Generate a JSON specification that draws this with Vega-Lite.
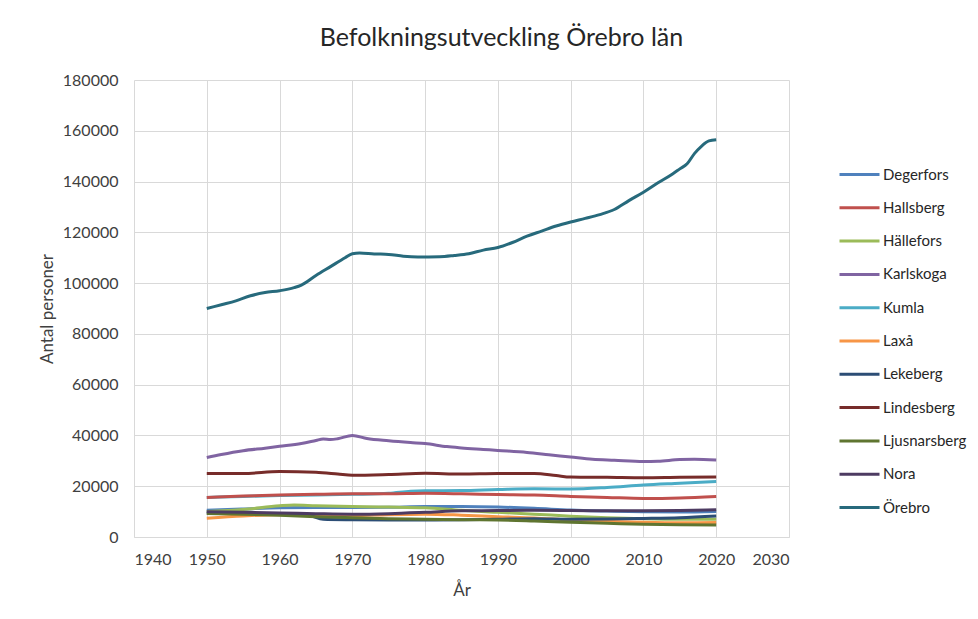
{
  "$schema": "https://vega.github.io/schema/vega-lite/v6.json",
  "width": 655,
  "height": 457,
  "autosize": {"type": "none"},
  "padding": {"left": 134, "top": 80, "right": 189, "bottom": 82},
  "background": "white",
  "title": {"text": "Befolkningsutveckling Örebro län", "anchor": "middle", "dx": 40, "offset": 1, "baseline": "alphabetic", "fontSize": 25, "font": "Lato", "fontWeight": "normal", "color": "#262626"},
  "config": {"view": {"stroke": null}, "font": "Lato"},
  "datasets": {
    "pop": [
      {"k":"Örebro","y":1950,"v":90000},{"k":"Örebro","y":1952,"v":91500},{"k":"Örebro","y":1954,"v":93000},{"k":"Örebro","y":1956,"v":95000},{"k":"Örebro","y":1958,"v":96300},{"k":"Örebro","y":1960,"v":97000},{"k":"Örebro","y":1962,"v":98200},{"k":"Örebro","y":1963,"v":99200},{"k":"Örebro","y":1965,"v":103000},{"k":"Örebro","y":1967,"v":106500},{"k":"Örebro","y":1969,"v":110000},{"k":"Örebro","y":1970,"v":111600},{"k":"Örebro","y":1971,"v":111900},{"k":"Örebro","y":1973,"v":111500},{"k":"Örebro","y":1975,"v":111300},{"k":"Örebro","y":1977,"v":110600},{"k":"Örebro","y":1979,"v":110300},{"k":"Örebro","y":1982,"v":110400},{"k":"Örebro","y":1984,"v":110900},{"k":"Örebro","y":1986,"v":111600},{"k":"Örebro","y":1988,"v":113000},{"k":"Örebro","y":1990,"v":114000},{"k":"Örebro","y":1992,"v":116000},{"k":"Örebro","y":1994,"v":118500},{"k":"Örebro","y":1996,"v":120500},{"k":"Örebro","y":1998,"v":122500},{"k":"Örebro","y":2000,"v":124100},{"k":"Örebro","y":2002,"v":125500},{"k":"Örebro","y":2004,"v":127000},{"k":"Örebro","y":2006,"v":129000},{"k":"Örebro","y":2008,"v":132500},{"k":"Örebro","y":2010,"v":135800},{"k":"Örebro","y":2012,"v":139500},{"k":"Örebro","y":2014,"v":143000},{"k":"Örebro","y":2015,"v":145000},{"k":"Örebro","y":2016,"v":147000},{"k":"Örebro","y":2017,"v":151000},{"k":"Örebro","y":2018,"v":154000},{"k":"Örebro","y":2019,"v":156000},{"k":"Örebro","y":2020,"v":156500},
      {"k":"Karlskoga","y":1950,"v":31300},{"k":"Karlskoga","y":1952,"v":32500},{"k":"Karlskoga","y":1955,"v":34000},{"k":"Karlskoga","y":1958,"v":35000},{"k":"Karlskoga","y":1960,"v":35700},{"k":"Karlskoga","y":1963,"v":36800},{"k":"Karlskoga","y":1965,"v":38000},{"k":"Karlskoga","y":1966,"v":38600},{"k":"Karlskoga","y":1967,"v":38400},{"k":"Karlskoga","y":1968,"v":38700},{"k":"Karlskoga","y":1970,"v":40000},{"k":"Karlskoga","y":1972,"v":38800},{"k":"Karlskoga","y":1975,"v":37900},{"k":"Karlskoga","y":1978,"v":37200},{"k":"Karlskoga","y":1980,"v":36800},{"k":"Karlskoga","y":1983,"v":35600},{"k":"Karlskoga","y":1985,"v":35100},{"k":"Karlskoga","y":1988,"v":34500},{"k":"Karlskoga","y":1990,"v":34100},{"k":"Karlskoga","y":1994,"v":33300},{"k":"Karlskoga","y":1997,"v":32400},{"k":"Karlskoga","y":2000,"v":31500},{"k":"Karlskoga","y":2003,"v":30600},{"k":"Karlskoga","y":2006,"v":30200},{"k":"Karlskoga","y":2010,"v":29700},{"k":"Karlskoga","y":2012,"v":29800},{"k":"Karlskoga","y":2015,"v":30500},{"k":"Karlskoga","y":2017,"v":30600},{"k":"Karlskoga","y":2020,"v":30300},
      {"k":"Lindesberg","y":1950,"v":25000},{"k":"Lindesberg","y":1955,"v":25000},{"k":"Lindesberg","y":1960,"v":25800},{"k":"Lindesberg","y":1965,"v":25500},{"k":"Lindesberg","y":1968,"v":24800},{"k":"Lindesberg","y":1970,"v":24300},{"k":"Lindesberg","y":1975,"v":24600},{"k":"Lindesberg","y":1980,"v":25100},{"k":"Lindesberg","y":1985,"v":24800},{"k":"Lindesberg","y":1990,"v":25000},{"k":"Lindesberg","y":1995,"v":25000},{"k":"Lindesberg","y":1998,"v":24200},{"k":"Lindesberg","y":2000,"v":23600},{"k":"Lindesberg","y":2005,"v":23500},{"k":"Lindesberg","y":2010,"v":23300},{"k":"Lindesberg","y":2015,"v":23500},{"k":"Lindesberg","y":2020,"v":23600},
      {"k":"Kumla","y":1950,"v":15600},{"k":"Kumla","y":1955,"v":16000},{"k":"Kumla","y":1960,"v":16300},{"k":"Kumla","y":1965,"v":16500},{"k":"Kumla","y":1970,"v":16800},{"k":"Kumla","y":1975,"v":17200},{"k":"Kumla","y":1978,"v":18000},{"k":"Kumla","y":1980,"v":18200},{"k":"Kumla","y":1985,"v":18300},{"k":"Kumla","y":1990,"v":18700},{"k":"Kumla","y":1995,"v":19000},{"k":"Kumla","y":2000,"v":18900},{"k":"Kumla","y":2005,"v":19500},{"k":"Kumla","y":2010,"v":20500},{"k":"Kumla","y":2015,"v":21200},{"k":"Kumla","y":2020,"v":21900},
      {"k":"Hallsberg","y":1950,"v":15600},{"k":"Hallsberg","y":1955,"v":16100},{"k":"Hallsberg","y":1960,"v":16500},{"k":"Hallsberg","y":1965,"v":16800},{"k":"Hallsberg","y":1970,"v":17000},{"k":"Hallsberg","y":1975,"v":17000},{"k":"Hallsberg","y":1980,"v":17200},{"k":"Hallsberg","y":1985,"v":17000},{"k":"Hallsberg","y":1990,"v":16700},{"k":"Hallsberg","y":1995,"v":16500},{"k":"Hallsberg","y":2000,"v":16000},{"k":"Hallsberg","y":2005,"v":15600},{"k":"Hallsberg","y":2010,"v":15200},{"k":"Hallsberg","y":2015,"v":15400},{"k":"Hallsberg","y":2020,"v":16000},
      {"k":"Degerfors","y":1950,"v":10500},{"k":"Degerfors","y":1955,"v":11000},{"k":"Degerfors","y":1960,"v":11500},{"k":"Degerfors","y":1965,"v":11600},{"k":"Degerfors","y":1970,"v":11600},{"k":"Degerfors","y":1975,"v":11700},{"k":"Degerfors","y":1980,"v":12000},{"k":"Degerfors","y":1985,"v":12000},{"k":"Degerfors","y":1990,"v":11800},{"k":"Degerfors","y":1995,"v":11300},{"k":"Degerfors","y":2000,"v":10600},{"k":"Degerfors","y":2005,"v":10200},{"k":"Degerfors","y":2010,"v":9900},{"k":"Degerfors","y":2015,"v":9800},{"k":"Degerfors","y":2020,"v":10000},
      {"k":"Hällefors","y":1950,"v":10000},{"k":"Hällefors","y":1955,"v":10800},{"k":"Hällefors","y":1960,"v":12300},{"k":"Hällefors","y":1962,"v":12600},{"k":"Hällefors","y":1965,"v":12300},{"k":"Hällefors","y":1970,"v":12000},{"k":"Hällefors","y":1975,"v":11800},{"k":"Hällefors","y":1980,"v":11500},{"k":"Hällefors","y":1985,"v":10500},{"k":"Hällefors","y":1990,"v":9700},{"k":"Hällefors","y":1995,"v":9000},{"k":"Hällefors","y":2000,"v":8200},{"k":"Hällefors","y":2005,"v":7600},{"k":"Hällefors","y":2010,"v":7200},{"k":"Hällefors","y":2015,"v":7000},{"k":"Hällefors","y":2020,"v":7000},
      {"k":"Laxå","y":1950,"v":7400},{"k":"Laxå","y":1955,"v":8300},{"k":"Laxå","y":1960,"v":8800},{"k":"Laxå","y":1965,"v":8700},{"k":"Laxå","y":1970,"v":8400},{"k":"Laxå","y":1975,"v":8800},{"k":"Laxå","y":1980,"v":9000},{"k":"Laxå","y":1985,"v":8600},{"k":"Laxå","y":1990,"v":8000},{"k":"Laxå","y":1995,"v":7500},{"k":"Laxå","y":2000,"v":6700},{"k":"Laxå","y":2005,"v":6200},{"k":"Laxå","y":2010,"v":5800},{"k":"Laxå","y":2015,"v":5600},{"k":"Laxå","y":2020,"v":5700},
      {"k":"Lekeberg","y":1950,"v":9500},{"k":"Lekeberg","y":1955,"v":9300},{"k":"Lekeberg","y":1960,"v":9000},{"k":"Lekeberg","y":1964,"v":8500},{"k":"Lekeberg","y":1966,"v":7000},{"k":"Lekeberg","y":1970,"v":6800},{"k":"Lekeberg","y":1975,"v":6700},{"k":"Lekeberg","y":1980,"v":6700},{"k":"Lekeberg","y":1985,"v":6800},{"k":"Lekeberg","y":1990,"v":7000},{"k":"Lekeberg","y":1995,"v":7200},{"k":"Lekeberg","y":2000,"v":7000},{"k":"Lekeberg","y":2005,"v":7100},{"k":"Lekeberg","y":2010,"v":7300},{"k":"Lekeberg","y":2015,"v":7600},{"k":"Lekeberg","y":2020,"v":8300},
      {"k":"Ljusnarsberg","y":1950,"v":9300},{"k":"Ljusnarsberg","y":1955,"v":9000},{"k":"Ljusnarsberg","y":1960,"v":8600},{"k":"Ljusnarsberg","y":1965,"v":8000},{"k":"Ljusnarsberg","y":1970,"v":7600},{"k":"Ljusnarsberg","y":1975,"v":7200},{"k":"Ljusnarsberg","y":1980,"v":7000},{"k":"Ljusnarsberg","y":1985,"v":6800},{"k":"Ljusnarsberg","y":1990,"v":6700},{"k":"Ljusnarsberg","y":1995,"v":6300},{"k":"Ljusnarsberg","y":2000,"v":5800},{"k":"Ljusnarsberg","y":2005,"v":5400},{"k":"Ljusnarsberg","y":2010,"v":5000},{"k":"Ljusnarsberg","y":2015,"v":4800},{"k":"Ljusnarsberg","y":2020,"v":4700},
      {"k":"Nora","y":1950,"v":9900},{"k":"Nora","y":1955,"v":9700},{"k":"Nora","y":1960,"v":9500},{"k":"Nora","y":1965,"v":9200},{"k":"Nora","y":1970,"v":9000},{"k":"Nora","y":1975,"v":9200},{"k":"Nora","y":1980,"v":9700},{"k":"Nora","y":1985,"v":10300},{"k":"Nora","y":1990,"v":10400},{"k":"Nora","y":1995,"v":10500},{"k":"Nora","y":2000,"v":10400},{"k":"Nora","y":2005,"v":10300},{"k":"Nora","y":2010,"v":10300},{"k":"Nora","y":2015,"v":10400},{"k":"Nora","y":2020,"v":10700}
    ]
  },
  "data": {"name": "pop"},
  "mark": {"type": "line", "strokeWidth": 3, "interpolate": "monotone"},
  "encoding": {
    "x": {"field": "y", "type": "quantitative", "scale": {"domain": [1940, 2030], "nice": false, "zero": false},
      "axis": {"title": "År", "values": [1940,1950,1960,1970,1980,1990,2000,2010,2020,2030], "format": "d", "grid": true, "gridColor": "#D9D9D9", "domainColor": "#D9D9D9", "ticks": false, "labelPadding": 14, "labelFontSize": 16, "labelColor": "#404040", "titleFontSize": 17, "titleFontWeight": "normal", "titleColor": "#404040", "titlePadding": 15, "labelFont": "Lato", "titleFont": "Lato"}},
    "y": {"field": "v", "type": "quantitative", "scale": {"domain": [0, 180000], "nice": false},
      "axis": {"title": "Antal personer", "values": [0,20000,40000,60000,80000,100000,120000,140000,160000,180000], "format": "d", "grid": true, "gridColor": "#D9D9D9", "domain": false, "ticks": false, "labelPadding": 16, "labelFontSize": 16, "labelColor": "#404040", "titleFontSize": 17, "titleFontWeight": "normal", "titleColor": "#404040", "titlePadding": 6, "labelFont": "Lato", "titleFont": "Lato"}},
    "color": {"field": "k", "type": "nominal",
      "scale": {"domain": ["Degerfors","Hallsberg","Hällefors","Karlskoga","Kumla","Laxå","Lekeberg","Lindesberg","Ljusnarsberg","Nora","Örebro"],
        "range": ["#4F81BD","#C0504D","#9BBB59","#8064A2","#4BACC6","#F79646","#2C4D75","#772C2A","#5F7530","#4D3B62","#276A7C"]},
      "legend": {"title": null, "orient": "none", "legendX": 704, "legendY": 73, "symbolType": "stroke", "symbolSize": 1600, "symbolStrokeWidth": 3, "rowPadding": 3.3, "labelFontSize": 15, "labelColor": "#262626", "labelFont": "Lato", "labelOffset": 2}}
  }
}
